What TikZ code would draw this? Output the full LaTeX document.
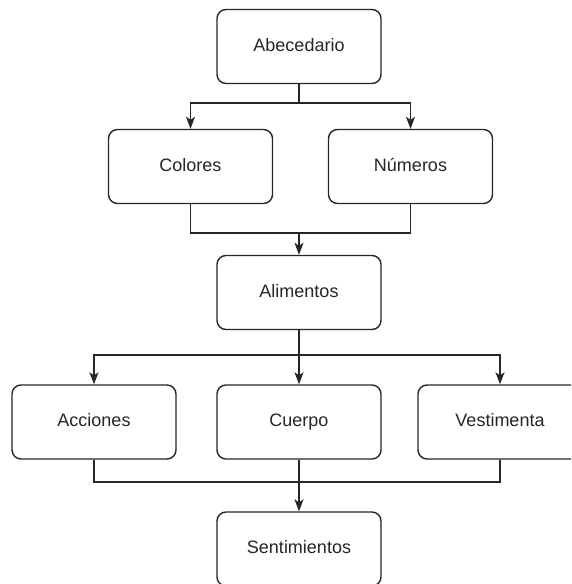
\documentclass[tikz,border=0pt]{standalone}
\usepackage{fontspec}
\setmainfont{Liberation Sans}
\usetikzlibrary{arrows.meta}
\begin{document}
\begin{tikzpicture}[x=1pt,y=-1pt,
  box/.style={draw=black!85, line width=1.4pt, rounded corners=9pt, minimum width=164pt, minimum height=74pt, inner sep=0pt, text height=13pt, text depth=4pt, font=\fontsize{18}{20}\selectfont, text=black!85, fill=white},
  link/.style={draw=black!85, line width=1.4pt},
  arr/.style={link, -{Stealth[length=12pt,width=9pt,inset=3pt]}}]
\useasboundingbox (0,0) rectangle (571,584);
\begin{scope}
\clip (0,0) rectangle (571,584);
\node[box] (abc) at (299,46.5) {Abecedario};
\node[box] (col) at (190.5,166.5) {Colores};
\node[box] (num) at (410.5,166.5) {Números};
\node[box] (ali) at (299,292.5) {Alimentos};
\node[box] (acc) at (94,422) {Acciones};
\node[box] (cue) at (299,422) {Cuerpo};
\node[box] (ves) at (500,422) {Vestimenta};
\node[box] (sen) at (299,549) {Sentimientos};
\end{scope}
\coordinate (j1) at (299,103);
\coordinate (j2) at (299,233);
\coordinate (j3) at (299,355);
\coordinate (j4) at (299,482);
% level 1
\draw[link] (abc.south) -- (j1);
\draw[arr] (j1) -| (col.north);
\draw[arr] (j1) -| (num.north);
% level 2
\draw[link] (col.south) |- (j2);
\draw[link] (num.south) |- (j2);
\draw[arr] (j2) -- (ali.north);
% level 3
\draw[link] (ali.south) -- (j3);
\draw[arr] (j3) -| (acc.north);
\draw[arr] (j3) -- (cue.north);
\draw[arr] (j3) -| (ves.north);
% level 4
\draw[link] (acc.south) |- (j4);
\draw[link] (ves.south) |- (j4);
\draw[link] (cue.south) -- (j4);
\draw[arr] (j4) -- (sen.north);
\end{tikzpicture}
\end{document}
